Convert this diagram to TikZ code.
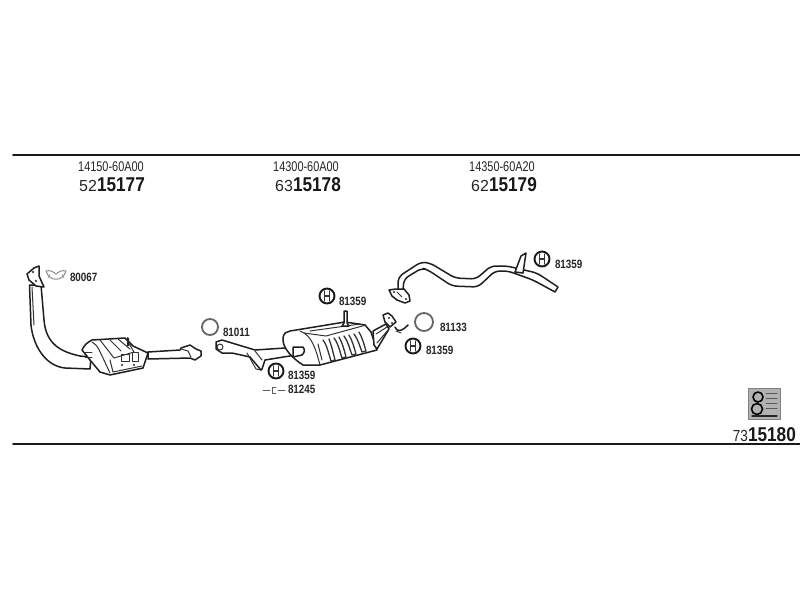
\documentclass[tikz,border=0pt]{standalone}
\usepackage{fontspec}
\setmainfont{Liberation Sans}
\begin{document}
\begin{tikzpicture}[x=1pt,y=-1pt,line join=round,line cap=round,
  ink/.style={draw=black!88,line width=1.5pt},
  thin ink/.style={draw=black!80,line width=1pt},
  part/.style={ink,fill=white},
  rule/.style={draw=black!90,line width=1.7pt},
  lbl/.style={anchor=west,inner sep=0,outer sep=0,xscale=.82,text=black!85,font=\fontsize{12}{12}\selectfont\bfseries},
  num/.style={anchor=center,inner sep=0,outer sep=0,xscale=.78,text=black!85,font=\fontsize{14}{14}\selectfont},
  big/.style={anchor=west,inner sep=0,outer sep=0,xscale=.86,text=black!90,font=\fontsize{20}{20}\selectfont\bfseries},
  pre/.style={anchor=east,inner sep=0,outer sep=0,xscale=1,text=black!85,font=\fontsize{16}{16}\selectfont},
  ringpart/.style={circle,draw=black!60,line width=1.8pt,fill=white,minimum size=16pt,inner sep=0},
  mount/.pic={
    \draw[draw=black!90,line width=1.9pt,fill=white] (0,0) circle (7.5);
    \draw[draw=black!80,line width=1.3pt] (-2.6,-5) -- (-2.6,5) (2.6,-5) -- (2.6,5) (-2.6,0) -- (2.6,0);
  }]
\useasboundingbox (0,0) rectangle (800,600);
\fill[white] (0,0) rectangle (800,600);

% rules
\coordinate (tl) at (13,155); \coordinate (tr) at (800,155);
\coordinate (bl) at (13,444); \coordinate (br) at (800,444);
\draw[rule] (tl) -- (tr);
\draw[rule] (bl) -- (br);

% headers
\node[num] (n1) at (111,167) {14150-60A00};
\node[pre] (p1) at (97,186) {52};
\node[big] (b1) at (97,185) {15177};
\node[num] (n2) at (306,167) {14300-60A00};
\node[pre] (p2) at (293,186) {63};
\node[big] (b2) at (293,185) {15178};
\node[num] (n3) at (502,167) {14350-60A20};
\node[pre] (p3) at (489,186) {62};
\node[big] (b3) at (489,185) {15179};

% front pipe
\draw[part] (29.5,285) -- (31,325) .. controls (33,345) and (45,366) .. (65,368) -- (90,369)
  -- (91,357) -- (80,356) .. controls (62,352) and (46,345) .. (44,320) -- (41,285) -- cycle;
\draw[thin ink] (32,287) -- (34,325);
% flange
\draw[part] (34,268) -- (39,266) -- (39,276) -- (44,287) -- (36,286) -- (29,280) -- (27,274) -- cycle;
\fill[black!70] (33,272) circle (1.4) (36,281) circle (1.4);
% gasket
\draw[thin ink,draw=black!45] (46,271) .. controls (49,282) and (63,282) .. (66,271)
  .. controls (62,270) and (60,271) .. (56,274) .. controls (52,271) and (50,270) .. (46,271) -- cycle;
\draw[draw=black!45,line width=.6pt] (50,274) -- (48,278) (62,274) -- (64,278);
\node[lbl] (l80067) at (70,277) {80067};

% outlet pipe of catalyst
\draw[part] (148,352) -- (180,350) -- (181,348) -- (190,345) -- (196,349) -- (201,351) -- (201,356) -- (195,360) -- (190,358) -- (148,359) -- cycle;
\draw[thin ink] (181,349) -- (188,351) -- (191,357);
% catalyst
\draw[part] (82,350) .. controls (84,345) and (88,342) .. (92,340) -- (125,338) -- (133,346)
  -- (148,353) -- (143,368) -- (110,375) -- (100,372) -- (90,360) -- cycle;
\draw[thin ink] (92,342) .. controls (98,345) and (100,352) .. (103,358) -- (110,373);
\draw[thin ink] (100,340) -- (114,358) -- (134,352) -- (127,340);
\draw[thin ink] (110,340) -- (121,351) (118,339) -- (130,349);
\draw[thin ink] (110,360) -- (113,372) -- (142,366);
\draw[thin ink] (121,354) rectangle (129,361);
\draw[thin ink] (132,352) rectangle (138,361);
\draw[thin ink] (84,352) -- (92,352) (85,357) -- (92,357);
\fill[black!85] (127,337) -- (129,338) -- (129,346) -- (127,346) -- cycle;
\fill[black!85] (122,365) circle (1.2) (134,365) circle (1.2);

% ring 81011
\node[ringpart] (r1) at (210,327) {};
\node[lbl] (l81011) at (223,332) {81011};

% middle pipe
\draw[part] (216,342) -- (222,340) -- (255,350) -- (300,347) .. controls (304,349) and (304,352) .. (302,354)
  -- (265,360) -- (262,369) -- (261,370) -- (250,357) -- (232,353) -- (222,353) -- (216,349) -- cycle;
\draw[thin ink] (220,347) circle (3);
\draw[thin ink] (247,353) -- (256,369) -- (261,370);
\draw[thin ink] (255,351) -- (262,360);

% muffler
\draw[part] (283,340) .. controls (283,332) and (287,332) .. (290,331) -- (345,322) -- (365,325)
  -- (371,332) -- (377,350) -- (320,365) -- (303,365) .. controls (292,358) and (283,348) .. (283,340) -- cycle;
\draw[thin ink] (300,331) .. controls (312,335) and (316,350) .. (320,365);
\draw[thin ink] (310,331) -- (360,324) (304,333) -- (326,336) -- (366,325);
\draw[thin ink,line width=1.3pt] (323,340) .. controls (327,345) and (329,355) .. (331,361) -- (335,360) .. controls (333,352) and (331,344) .. (329,339);
\draw[thin ink,line width=1.3pt] (334,338) .. controls (338,343) and (340,352) .. (342,358) -- (346,357) .. controls (344,349) and (342,342) .. (339,337);
\draw[thin ink,line width=1.3pt] (344,336) .. controls (348,341) and (350,350) .. (352,355) -- (356,354) .. controls (354,347) and (352,340) .. (349,335);
\draw[thin ink,line width=1.3pt] (354,334) .. controls (358,339) and (360,347) .. (362,352) -- (366,351) .. controls (364,344) and (362,337) .. (359,332);
\draw[thin ink] (318,344) -- (322,360);
\draw[part] (293,347) -- (303,347) .. controls (305,350) and (305,352) .. (302,355) -- (293,357) -- cycle;
% stud
\draw[part] (344,311) -- (347,311) -- (347,323) -- (349,326) -- (342,326) -- (344,323) -- cycle;
% muffler right cone + flange
\draw[part] (373,331) -- (386,324) -- (389,329) -- (377,349) -- (374,345) -- cycle;
\draw[thin ink] (376,334) -- (387,327) (377,343) -- (388,330);
\draw[part] (383,315) -- (388,313) -- (392,316) -- (396,322) -- (390,327) -- (385,322) -- cycle;
\draw[ink] (395,327) .. controls (398,333) and (402,331) .. (408,325);
\draw[thin ink] (396,331) -- (401,333);
\fill[black!80] (389,318) circle (1.2) (392,323) circle (1.2);

% ring 81133
\node[ringpart,minimum size=18pt] (r2) at (424,322) {};
\node[lbl] (l81133) at (440,327) {81133};

% mounts
\pic (m1) at (327,296) {mount};
\node[lbl] (l1) at (339,301) {81359};
\pic (m2) at (413,346) {mount};
\node[lbl] (l2) at (426,350) {81359};
\pic (m3) at (276,371) {mount};
\node[lbl] (l3) at (288,375) {81359};
\pic (m4) at (542,259) {mount};
\node[lbl] (l4) at (555,264) {81359};
\node[lbl] (l81245) at (288,389) {81245};
% clip symbol
\coordinate (c1) at (263,390); \coordinate (c2) at (270,390); \coordinate (c3) at (278,390); \coordinate (c4) at (285,390);
\draw[draw=black!65,line width=.9pt] (c1) -- (c2) (c3) -- (c4);
\draw[draw=black!65,line width=.9pt] (276,387) -- (272,387) -- (272,393) -- (276,393);

% tail pipe
\draw[part,rounded corners=5pt] (398,290) -- (398,277) -- (421,262) -- (430,263) -- (455,278) -- (476,279) -- (491,266) -- (507,266)
  -- (537,273) [sharp corners] -- (558,287) -- (555,292) [rounded corners=5pt] -- (533,280) -- (508,271) -- (495,271) -- (478,287)
  -- (452,286) -- (428,270) -- (422,268) -- (404,279) [sharp corners] -- (403,290) -- cycle;
% hanger
\draw[part] (515,272) -- (521,256) -- (526,253) -- (523,273) -- cycle;
% flange
\draw[part] (389,290) -- (396,289) -- (404,289) -- (409,295) -- (410,301) -- (405,303) -- (397,300) -- (392,296) -- cycle;
\fill[black!85] (394,292) circle (1.2) (406,299) circle (1.2);
\draw[thin ink] (397,292) -- (402,297);

% logo
\fill[black!30] (748,388) rectangle (780,419);
\draw[draw=black!50,line width=.6pt] (748,388) rectangle (780,419);
\draw[draw=black,line width=1.6pt] (758,397) circle (5) (757,409) circle (5.5);
\foreach \y in {393,398,403,408} \draw[draw=black!65,line width=1pt] (766,\y) -- (777,\y);
\draw[draw=black!85,line width=1.2pt] (752,416) -- (777,416);
\node[pre,xscale=.85] (p4) at (748,436) {73};
\node[big] (b4) at (748,435) {15180};
\end{tikzpicture}
\end{document}
